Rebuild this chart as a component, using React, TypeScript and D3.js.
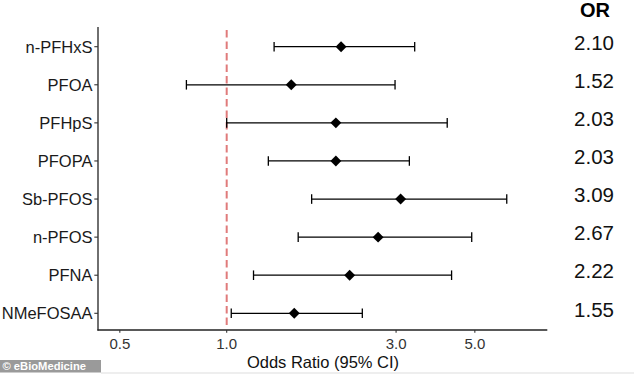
import React from "react";
import * as d3 from "d3";

const categories = ["n-PFHxS", "PFOA", "PFHpS", "PFOPA", "Sb-PFOS", "n-PFOS", "PFNA", "NMeFOSAA"];
const orValues = [2.10, 1.52, 2.03, 2.03, 3.09, 2.67, 2.22, 1.55];
const ciLower = [1.36, 0.77, 1.0, 1.31, 1.735, 1.59, 1.19, 1.03];
const ciUpper = [3.385, 2.98, 4.18, 3.27, 6.15, 4.9, 4.3, 2.41];
const orLabels = ["2.10", "1.52", "2.03", "2.03", "3.09", "2.67", "2.22", "1.55"];
const xTicks = [0.5, 1.0, 3.0, 5.0];

const W = 634;
const H = 374;
const FONT = "'Liberation Sans', Arial, Helvetica, sans-serif";

export default function App() {
  const x = d3.scaleLog().domain([0.434, 8.0]).range([98, 547.3]);
  const y = d3.scalePoint<string>().domain(categories).range([46.7, 313.3]);
  const diamond = d3.symbol().type(d3.symbolSquare).size(60)();
  const axisY0 = 27;
  const axisY1 = 330.5;
  const capH = 4.8;

  return (
    <div style={{ position: "absolute", left: 0, top: 0 }}>
      <svg width={W} height={H} style={{ display: "block", background: "#fff" }} fontFamily={FONT}>
        {/* reference line */}
        <line x1={x(1)} x2={x(1)} y1={30} y2={329} stroke="#e07b7b" strokeWidth={2} strokeDasharray="7.5,4" />
        {/* axes */}
        <line x1={98} x2={98} y1={axisY0} y2={axisY1} stroke="#222" strokeWidth={1.3} />
        <line x1={97.4} x2={547.3} y1={330} y2={330} stroke="#222" strokeWidth={1.3} />
        {categories.map((c) => (
          <g key={c}>
            <line x1={94.3} x2={98} y1={y(c)} y2={y(c)} stroke="#333" strokeWidth={1.1} />
            <text x={92.5} y={(y(c) as number) + 5.8} textAnchor="end" fontSize={16.5} fill="#1a1a1a">
              {c}
            </text>
          </g>
        ))}
        {xTicks.map((t) => (
          <g key={t}>
            <line x1={x(t)} x2={x(t)} y1={330} y2={332.8} stroke="#333" strokeWidth={1.1} />
            <text x={x(t)} y={349.3} textAnchor="middle" fontSize={15} fill="#333">
              {t.toFixed(1)}
            </text>
          </g>
        ))}
        <text x={323} y={367.5} textAnchor="middle" fontSize={16.5} fill="#111">
          Odds Ratio (95% CI)
        </text>
        {/* error bars & points */}
        {categories.map((c, i) => {
          const cy = y(c) as number;
          const lo = x(ciLower[i]);
          const hi = x(ciUpper[i]);
          return (
            <g key={"e" + c}>
              <line x1={lo} x2={hi} y1={cy} y2={cy} stroke="#000" strokeWidth={1.3} />
              <line x1={lo} x2={lo} y1={cy - capH} y2={cy + capH} stroke="#000" strokeWidth={1.3} />
              <line x1={hi} x2={hi} y1={cy - capH} y2={cy + capH} stroke="#000" strokeWidth={1.3} />
              <path d={diamond as string} transform={`translate(${x(orValues[i])},${cy}) rotate(45)`} fill="#000" />
            </g>
          );
        })}
        {/* OR column */}
        <text x={595} y={17} textAnchor="middle" fontSize={20} fontWeight="bold" fill="#000">
          OR
        </text>
        {categories.map((c, i) => (
          <text key={"o" + c} x={594} y={(y(c) as number) + 3.2} textAnchor="middle" fontSize={20.5} fill="#111">
            {orLabels[i]}
          </text>
        ))}
        {/* watermark */}
        <rect x={0} y={360} width={101} height={12.5} fill="#9a9a9a" />
        <text x={2.5} y={370} fontSize={11.2} fontWeight="bold" fill="#fff">
          © eBioMedicine
        </text>
        <line x1={101} x2={W} y1={373} y2={373} stroke="#ddd" strokeWidth={1} />
      </svg>
    </div>
  );
}
